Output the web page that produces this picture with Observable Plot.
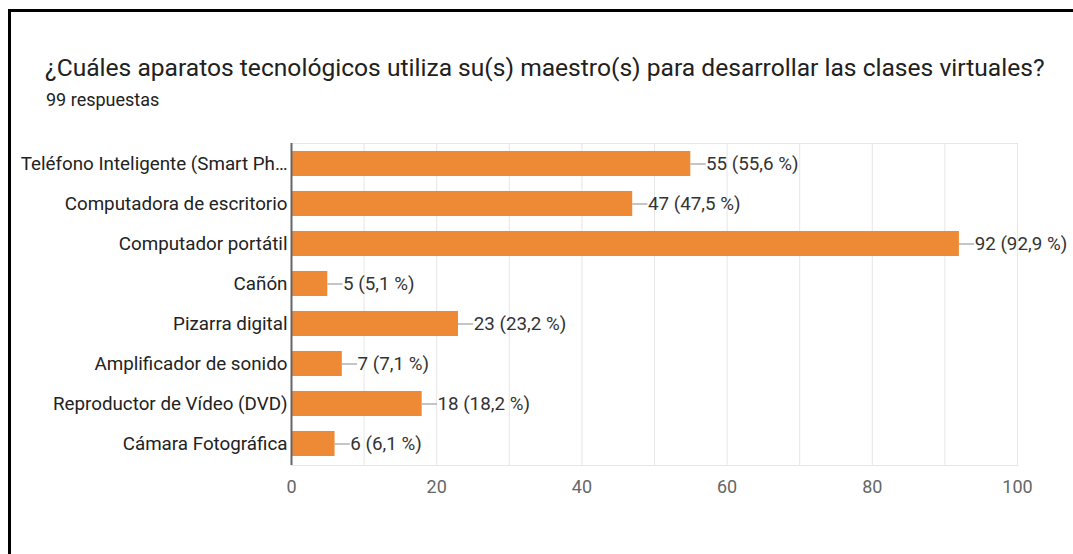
<!DOCTYPE html>
<html>
<head>
<meta charset="utf-8">
<script src="https://cdn.jsdelivr.net/npm/d3@7"></script>
<script src="https://cdn.jsdelivr.net/npm/@observablehq/plot@0.6"></script>
<style>
  html, body { margin: 0; padding: 0; background: #fff; }
  #wrap { position: relative; width: 1073px; height: 554px; overflow: hidden; background: #fff; font-family: Roboto, "Noto Sans", sans-serif; }
  #bl { position: absolute; left: 8px; top: 9px; width: 3px; height: 545px; background: #000; }
  #bt { position: absolute; left: 8px; top: 9px; width: 1065px; height: 3px; background: #000; }
  #title { position: absolute; left: 45px; top: 53px; font-size: 24.6px; color: #212121; white-space: nowrap; }
  #sub { position: absolute; left: 46px; top: 89px; font-size: 18px; color: #212121; white-space: nowrap; }
  #chart { position: absolute; left: 0; top: 120px; }
</style>
</head>
<body>
<div id="wrap">
  <div id="bl"></div>
  <div id="bt"></div>
  <div id="title">¿Cuáles aparatos tecnológicos utiliza su(s) maestro(s) para desarrollar las clases virtuales?</div>
  <div id="sub">99 respuestas</div>
  <div id="chart"></div>
</div>
<script>
const categories = [
  "Teléfono Inteligente (Smart Ph…",
  "Computadora de escritorio",
  "Computador portátil",
  "Cañón",
  "Pizarra digital",
  "Amplificador de sonido",
  "Reproductor de Vídeo (DVD)",
  "Cámara Fotográfica"
];
const counts = [55, 47, 92, 5, 23, 7, 18, 6];
const percents = ["55,6", "47,5", "92,9", "5,1", "23,2", "7,1", "18,2", "6,1"];
const xTicks = [0, 20, 40, 60, 80, 100];
const gridTicks = [0, 10, 20, 30, 40, 50, 60, 70, 80, 90, 100];

const data = categories.map((c, i) => ({cat: c, value: counts[i], pct: percents[i]}));
const connector = 2.1; // length of leader line in x units

const chart = Plot.plot({
  width: 1073,
  height: 380,
  marginTop: 23,
  marginBottom: 35,
  marginLeft: 291,
  marginRight: 56,
  style: {fontFamily: "Roboto, 'Noto Sans', sans-serif", fontSize: "18px", background: "transparent"},
  x: {domain: [0, 100], ticks: xTicks, label: null},
  y: {domain: categories, paddingInner: 0.367, paddingOuter: 0.183, label: null},
  marks: [
    Plot.gridX(gridTicks, {stroke: "#e6e6e6", strokeOpacity: 1}),
    Plot.frame({stroke: "#e6e6e6"}),
    Plot.barX(data, {y: "cat", x: "value", fill: "#ee8a36"}),
    Plot.ruleY(data, {y: "cat", x1: "value", x2: d => d.value + connector, stroke: "#9e9e9e", strokeWidth: 1.2}),
    Plot.text(data, {y: "cat", x: d => d.value + connector, text: d => `${d.value} (${d.pct} %)`, textAnchor: "start", dx: 0, fill: "#333", fontSize: 18.8}),
    Plot.ruleX([0], {stroke: "#666", strokeWidth: 2}),
    Plot.axisX({ticks: xTicks, tickSize: 0, tickPadding: 15, fill: "#666", fontSize: 18, tickFormat: d => d}),
    Plot.axisY({tickSize: 0, tickPadding: 4, fill: "#222", fontSize: 18.8})
  ]
});
document.getElementById("chart").appendChild(chart);
</script>
</body>
</html>
